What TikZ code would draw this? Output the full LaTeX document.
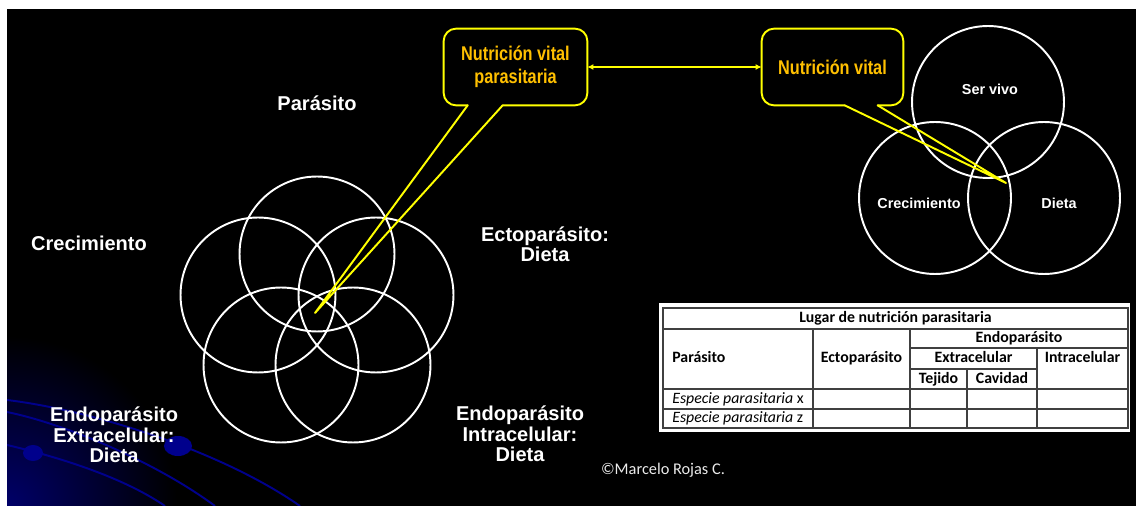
\documentclass[tikz,border=0pt]{standalone}
\usepackage{fontspec}
\setmainfont{Liberation Sans}
\newfontfamily\tabfont{Carlito}
\newfontfamily\condfont[FakeStretch=0.82]{Liberation Sans}
\usetikzlibrary{arrows.meta,calc}
\definecolor{callyel}{HTML}{FFFF00}
\definecolor{calltxt}{HTML}{FFC000}
\definecolor{decoblue}{HTML}{00008C}
\definecolor{tabline}{HTML}{404040}

\begin{document}
\begin{tikzpicture}[x=0.02cm,y=-0.02cm,
  lbl/.style={text=white,font=\fontsize{11.4}{11.6}\selectfont\bfseries,
              align=center,inner sep=0pt},
  ring/.style={circle,draw=white,line width=1.1pt,minimum size=3.1cm,
               inner sep=0pt},
  smallring/.style={ring,minimum size=3.04cm},
  smlbl/.style={text=white,font=\fontsize{8.2}{9}\selectfont\bfseries,
                inner sep=0pt},
  callbox/.style={text=calltxt,font=\condfont\fontsize{11.3}{13}\selectfont\bfseries,
                  align=center,minimum height=1.52cm,inner sep=0pt},
  callline/.style={draw=callyel,line width=1.1pt,line join=round,line cap=round},
  tab/.style={font=\tabfont\fontsize{9}{10}\selectfont,text=black,inner sep=0pt,
              text height=0.7em,text depth=0.22em},
  tabh/.style={tab,font=\tabfont\fontsize{9}{10}\selectfont\bfseries},
]
\useasboundingbox (0,0) rectangle (1136,506);
\fill[white] (0,0) rectangle (1136,506);
\fill[black] (7,9) rectangle (1136,506);

% ---------- background swirl ----------
\begin{scope}
  \clip (7,9) rectangle (1136,506);
  \shade[inner color=decoblue!75!black,outer color=black] (7,506) circle[radius=170];
  \draw[decoblue,line width=1.1pt] (7,400) .. controls (90,410) and (220,450) .. (300,506);
  \draw[decoblue,line width=1.1pt] (7,412) .. controls (70,425) and (160,465) .. (215,506);
  \draw[decoblue,line width=1.1pt] (7,445) .. controls (50,455) and (120,475) .. (165,506);
  \fill[decoblue] (33,453) ellipse[x radius=10,y radius=8];
  \fill[decoblue] (178,446) ellipse[x radius=14,y radius=10];
\end{scope}

% ---------- LEFT: five circles ----------
\foreach \n/\cx/\cy in {1/317/254,2/258/295,3/376/295,4/281/365,5/353/365}
  \node[ring] (pet\n) at (\cx,\cy) {};
\node[lbl] (lpar)   at (317,103) {Parásito};
\node[lbl] (lcrec)  at (89,243)  {Crecimiento};
\node[lbl] (lecto)  at (545,244) {Ectoparásito:\\Dieta};
\node[lbl] (lextra) at (114,435) {Endoparásito\\Extracelular:\\Dieta};
\node[lbl] (lintra) at (520,434) {Endoparásito\\Intracelular:\\Dieta};

% ---------- RIGHT: three circles ----------
\node[smallring] (servivo) at (988,102) {};
\node[smallring] (crec)    at (935,198) {};
\node[smallring] (dieta)   at (1044,198) {};
\node[smlbl] (lsv)   at (990,89)  {Ser vivo};
\node[smlbl] (lcr)   at (919,203) {Crecimiento};
\node[smlbl] (ldi)   at (1059,203) {Dieta};

% ---------- callouts ----------
\node[callbox,minimum width=2.86cm] (nvp) at (515.5,67) {Nutrición vital\\parasitaria};
\node[callbox,minimum width=2.82cm] (nv)  at (832.5,67) {Nutrición vital};
\coordinate (tipA) at (315,313);
\coordinate (tipB) at (1006,183);
\draw[callline,rounded corners=7pt] ($(nvp.south west)+(59,0)$) -- (nvp.south east)
  -- (nvp.north east) -- (nvp.north west) -- (nvp.south west) -- ($(nvp.south west)+(24,0)$);
\draw[callline] ($(nvp.south west)+(24,0)$) -- (tipA) -- ($(nvp.south west)+(59,0)$);
\draw[callline,rounded corners=7pt] ($(nv.south west)+(116,0)$) -- (nv.south east)
  -- (nv.north east) -- (nv.north west) -- (nv.south west) -- ($(nv.south west)+(83,0)$);
\draw[callline] ($(nv.south west)+(83,0)$) -- (tipB) -- ($(nv.south west)+(116,0)$);
\draw[callyel,line width=0.8pt,{Latex[length=3.5pt,width=3.5pt]}-{Latex[length=3.5pt,width=3.5pt]}]
  (nvp.east) -- (nv.west);

% ---------- table ----------
\fill[white] (659,303) rectangle (1130,432);
\draw[tabline,line width=0.6pt] (663,308) rectangle (1128,428);
\foreach \y in {329,389,409}
  \draw[tabline,line width=0.6pt] (663,\y) -- (1128,\y);
\draw[tabline,line width=0.6pt] (910,348) -- (1128,348);
\draw[tabline,line width=0.6pt] (910,369) -- (1037,369);
\foreach \x/\ytop in {813/329,910/329,967/369,1037/348}
  \draw[tabline,line width=0.6pt] (\x,\ytop) -- (\x,428);
\node[tabh] (ttitle) at (895.5,318.5) {Lugar de nutrición parasitaria};
\node[tabh,anchor=west] (tpar) at (672,358.5) {Parásito};
\node[tabh] (tecto)  at (861.5,358.5) {Ectoparásito};
\node[tabh] (tendo)  at (1019,338.5) {Endoparásito};
\node[tabh] (textra) at (973.5,358.5) {Extracelular};
\node[tabh] (tintra) at (1082.5,358.5) {Intracelular};
\node[tabh] (ttej)   at (938.5,379) {Tejido};
\node[tabh] (tcav)   at (1002,379) {Cavidad};
\node[tab,anchor=west] (rowx) at (672,399) {\textit{Especie parasitaria} x};
\node[tab,anchor=west] (rowz) at (672,418.5) {\textit{Especie parasitaria} z};

\node[font=\tabfont\fontsize{9.3}{10}\selectfont,text=white!92!black,inner sep=0pt]
  (copy) at (663,470) {©Marcelo Rojas C.};
\end{tikzpicture}
\end{document}
